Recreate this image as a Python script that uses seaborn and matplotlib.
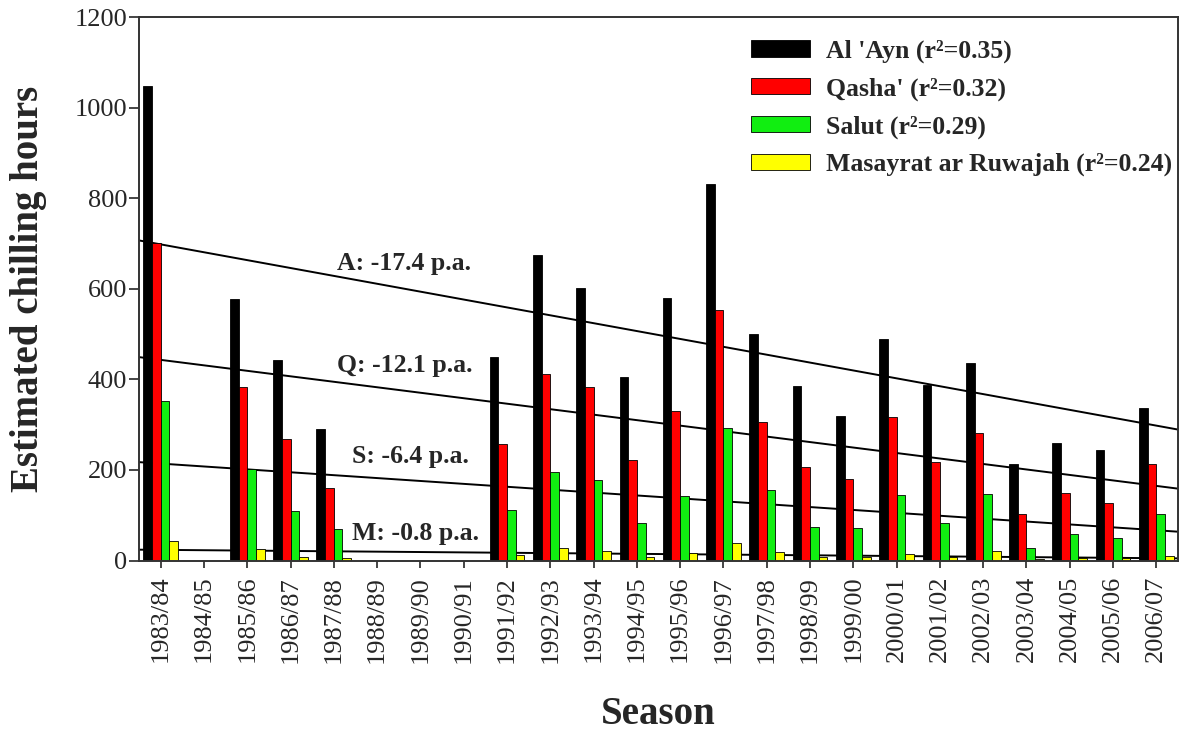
import numpy as np
import pandas as pd
import matplotlib
matplotlib.use("Agg")
import matplotlib.pyplot as plt
import seaborn as sns

# ---------------- data ----------------
seasons = ["1983/84", "1984/85", "1985/86", "1986/87", "1987/88", "1988/89",
           "1989/90", "1990/91", "1991/92", "1992/93", "1993/94", "1994/95",
           "1995/96", "1996/97", "1997/98", "1998/99", "1999/00", "2000/01",
           "2001/02", "2002/03", "2003/04", "2004/05", "2005/06", "2006/07"]

sites = ["Al 'Ayn", "Qasha'", "Salut", "Masayrat ar Ruwajah"]
r2 = [0.35, 0.32, 0.29, 0.24]

nan = np.nan
al_ayn = [1047, nan, 577, 443, 290, nan, nan, nan, 449, 675, 601, 406,
          579, 831, 500, 386, 318, 489, 388, 436, 213, 260, 243, 336]
qasha = [702, nan, 384, 268, 160, nan, nan, nan, 257, 412, 382, 222,
         329, 552, 305, 207, 179, 316, 217, 282, 103, 148, 127, 213]
salut = [353, nan, 201, 110, 70, nan, nan, nan, 112, 196, 178, 82,
         142, 292, 156, 75, 72, 145, 82, 147, 27, 58, 49, 103]
masayrat = [44, nan, 25, 8, 5, nan, nan, nan, 12, 27, 21, 7,
            16, 38, 18, 7, 7, 14, 8, 22, 4, 6, 6, 10]

# linear trends (value at first season, change per annum)
trend_names = ["A", "Q", "S", "M"]
trend_intercepts = [698, 443, 214, 23.5]
trend_slopes = [-17.4, -12.1, -6.4, -0.8]
trend_label_pos = [(5.62, 655), (5.65, 430), (5.76, 229), (5.88, 59)]

colors = ["#000000", "#ff0000", "#11ee11", "#ffff00"]

# ---------------- build frame ----------------
labels = [f"{s} (r\u00b2={r:.2f})" for s, r in zip(sites, r2)]
series = [al_ayn, qasha, salut, masayrat]
rows = []
for lab, vals in zip(labels, series):
    for season, v in zip(seasons, vals):
        rows.append({"Season": season, "Site": lab, "Hours": v})
df = pd.DataFrame(rows)

# ---------------- plot ----------------
sns.set_style("ticks")
plt.rcParams["font.family"] = ["Liberation Serif", "DejaVu Serif"]

fig = plt.figure(figsize=(11.81, 7.33), dpi=100)
ax = fig.add_axes([139 / 1181, 1 - 560.5 / 733, 1039 / 1181, (560.5 - 17) / 733])

sns.barplot(data=df, x="Season", y="Hours", hue="Site", order=seasons,
            hue_order=labels, palette=colors, errorbar=None, width=0.8,
            edgecolor="black", linewidth=0.6, saturation=1, ax=ax)

x0, x1 = -0.5, 23.5
xs = np.array([x0, x1])
for name, b, m, (tx, ty) in zip(trend_names, trend_intercepts, trend_slopes, trend_label_pos):
    ax.plot(xs, b + m * xs, color="black", lw=1.4, zorder=0.5)
    ax.text(tx, ty, f"{name}: {m:.1f} p.a.", ha="center", va="center",
            fontsize=18.5, fontweight="bold")

ax.set_xlim(x0, x1)
ax.set_ylim(0, 1200)
ax.set_yticks(range(0, 1201, 200))
ax.tick_params(axis="y", labelsize=19, length=7, width=1.2, pad=1.5)
ax.tick_params(axis="x", labelsize=19, length=5, width=1.2, pad=6, rotation=90)
for sp in ax.spines.values():
    sp.set_visible(True)
    sp.set_linewidth(1.4)
    sp.set_color("#333333")

ax.set_xlabel("Season", fontsize=28, fontweight="bold", labelpad=24)
ax.set_ylabel("Estimated chilling hours", fontsize=28, fontweight="bold", labelpad=20)

handles, labs = ax.get_legend_handles_labels()
if ax.get_legend() is not None:
    ax.get_legend().remove()
ax.legend(handles, labs, loc="upper left", bbox_to_anchor=(751 / 1181, 1 - 39.5 / 733),
          bbox_transform=fig.transFigure, frameon=False, borderpad=0,
          borderaxespad=0, prop={"size": 18.5, "weight": "bold"},
          handlelength=2.3, handleheight=0.6, handletextpad=0.6, labelspacing=0.56)

fig.savefig("out.png", dpi=100)
